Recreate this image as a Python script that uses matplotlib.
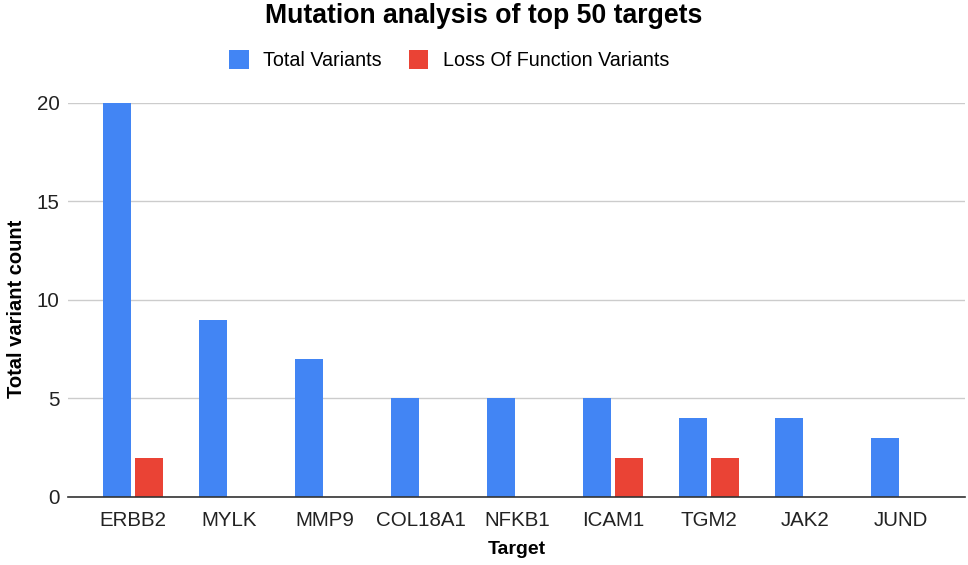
import numpy as np
import matplotlib.pyplot as plt
from matplotlib.patches import Patch

plt.rcParams['font.family'] = ['Liberation Sans', 'DejaVu Sans']

# Data
targets = ['ERBB2', 'MYLK', 'MMP9', 'COL18A1', 'NFKB1', 'ICAM1', 'TGM2', 'JAK2', 'JUND']
total_variants = [20, 9, 7, 5, 5, 5, 4, 4, 3]
lof_variants = [2, 0, 0, 0, 0, 2, 2, 0, 0]

blue = '#4285F4'
red = '#EA4335'

fig = plt.figure(figsize=(9.68, 5.65), dpi=100)
ax = fig.add_axes([0.0702, 0.1204, 0.9267, 0.6973])

x = np.arange(len(targets))
w = 0.29
gap = 0.02
ax.bar(x - w / 2 - gap, total_variants, width=w, color=blue, zorder=3)
lof = np.array(lof_variants)
mask = lof > 0
ax.bar(x[mask] + w / 2 + gap, lof[mask], width=w, color=red, zorder=3)

ax.set_xlim(-0.677, 8.667)
ax.set_ylim(0, 20)
ax.set_yticks([0, 5, 10, 15, 20])
ax.yaxis.grid(True, color='#cccccc', linewidth=1, zorder=0)
ax.set_xticks(x)
ax.set_xticklabels(targets)
ax.tick_params(axis='both', length=0, labelsize=14.8, colors='#222222')
ax.tick_params(axis='x', pad=10)
ax.tick_params(axis='y', pad=6)

for side in ['top', 'right', 'left']:
    ax.spines[side].set_visible(False)
ax.spines['bottom'].set_color('#333333')
ax.spines['bottom'].set_linewidth(1.2)
ax.spines['bottom'].set_zorder(4)

ax.set_xlabel('Target', fontsize=14, fontweight='bold', labelpad=8)
ax.set_ylabel('Total variant count', fontsize=14.5, fontweight='bold')
ax.yaxis.set_label_coords(-0.047, 0.477)

fig.text(0.5, 0.972, 'Mutation analysis of top 50 targets', ha='center', va='center',
         fontsize=19.2, fontweight='bold')

handles = [Patch(facecolor=blue, label='Total Variants'),
           Patch(facecolor=red, label='Loss Of Function Variants')]
fig.legend(handles=handles, loc='center', bbox_to_anchor=(0.464, 0.894), ncol=2,
           frameon=False, fontsize=14.2, handlelength=1.0, handleheight=1.1,
           handletextpad=0.75, columnspacing=1.35)

fig.savefig('out.png', dpi=100)
